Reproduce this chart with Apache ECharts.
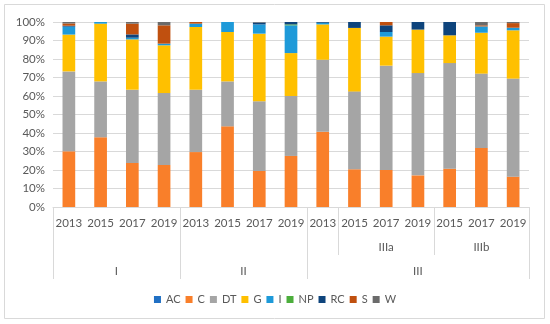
<!DOCTYPE html>
<html>
<head>
<meta charset="utf-8">
<script src="https://cdn.jsdelivr.net/npm/echarts@6/dist/echarts.min.js"></script>
<style>
html,body{margin:0;padding:0;background:#fff;}
#chart{width:550px;height:324px;}
</style>
</head>
<body>
<div id="chart"></div>
<script>
// Categories (year per bar), subgroup and group rows
var years = ['2013','2015','2017','2019','2013','2015','2017','2019','2013','2015','2017','2019','2015','2017','2019'];
var subgroupLabels = ['IIIa', 'IIIb'];
var groupLabels = ['I', 'II', 'III'];
var seriesNames = ['AC','C','DT','G','I','NP','RC','S','W'];

// Series values (% share per bar)
var AC = [0,0,0,0,0,0,0,0,0,0,0,0,0,0,0];
var C  = [30.1,37.7,23.8,22.7,29.7,43.6,19.5,27.6,40.7,20.4,20.0,17.1,20.7,31.9,16.4];
var DT = [43.2,30.2,39.6,38.9,33.7,24.3,37.6,32.4,38.9,42.1,56.4,55.3,57.1,40.2,53.0];
var G  = [19.9,31.2,27.2,25.8,33.9,26.7,36.6,23.2,19.1,34.3,15.7,23.5,15.0,22.1,26.1];
var I  = [4.3,0.9,0.9,0.9,1.8,5.4,5.0,15.0,0.9,0,2.5,0,0,3.4,1.4];
var NP = [0,0,0,0,0,0,0,0.5,0,0,0,0,0,0,0];
var RC = [0.5,0,1.8,0,0,0,1.0,1.3,0.4,3.2,3.6,4.1,7.2,0,0];
var S  = [1.2,0,5.8,9.9,0.9,0,0,0,0,0,1.8,0,0,0.6,2.5];
var W  = [0.8,0,0.9,1.8,0,0,0.3,0,0,0,0,0,0,1.8,0.6];

// Y axis ticks
var yTicks = [0,10,20,30,40,50,60,70,80,90,100];

var seriesData = [AC, C, DT, G, I, NP, RC, S, W];
var colors = ['#2170c4','#f97f2a','#a5a5a5','#ffc000','#1e9ad9','#4cae3c','#0e447c','#c0500f','#6b6b6b'];

// Build half-step slot axes (31 slots: 0, 0.5, ..., 15) for multi-level labels
function slots(labelMap) {
  var arr = [];
  for (var k = 0; k <= 30; k++) arr.push(labelMap[k] || '');
  return arr;
}
var groupSlots = slots({4: groupLabels[0], 12: groupLabels[1], 23: groupLabels[2]});
var subSlots = slots({21: subgroupLabels[0], 27: subgroupLabels[1]});
var groupTickIdx = [0, 8, 16, 30];
var subTickIdx = [18, 24];

var FONT = 'Lato';
var txt = {color:'#595959', fontSize:11.5, fontFamily:FONT};

var chart = echarts.init(document.getElementById('chart'));
chart.setOption({
  animation:false,
  color: colors,
  textStyle:{fontFamily:FONT},
  graphic:[{type:'rect', shape:{x:4.5,y:4.5,width:540,height:314}, style:{fill:'none', stroke:'#d9d9d9', lineWidth:1}, silent:true}],
  grid:{left:53, right:21, top:22, bottom:117, containLabel:false, outerBoundsMode:'none'},
  legend:{
    data: seriesNames, top:289, left:'center', icon:'rect', itemWidth:7, itemHeight:7, itemGap:5,
    textStyle:{color:'#595959', fontSize:11, fontFamily:FONT}
  },
  yAxis:{
    type:'value', min:yTicks[0], max:yTicks[yTicks.length-1], interval:10,
    axisLine:{show:false}, axisTick:{show:false},
    axisLabel:Object.assign({formatter:'{value}%', margin:8}, txt),
    splitLine:{lineStyle:{color:'#d9d9d9', width:1}}
  },
  xAxis:[
    {
      type:'category', data:years, position:'bottom', boundaryGap:true,
      axisLine:{show:true, lineStyle:{color:'#d9d9d9'}},
      axisTick:{show:false},
      axisLabel:Object.assign({interval:0, margin:10}, txt)
    },
    {
      type:'category', data:subSlots, position:'bottom', boundaryGap:false,
      axisLine:{show:false},
      axisTick:{show:true, length:48, interval:function(idx){return subTickIdx.indexOf(idx) >= 0;}, lineStyle:{color:'#d9d9d9'}},
      axisLabel:Object.assign({interval:0, margin:34}, txt),
      splitLine:{show:false}
    },
    {
      type:'category', data:groupSlots, position:'bottom', boundaryGap:false,
      axisLine:{show:false},
      axisTick:{show:true, length:72, interval:function(idx){return groupTickIdx.indexOf(idx) >= 0;}, lineStyle:{color:'#d9d9d9'}},
      axisLabel:Object.assign({interval:0, margin:58}, txt),
      splitLine:{show:false}
    }
  ],
  series: seriesNames.map(function(n, i){
    return {name:n, type:'bar', stack:'total', xAxisIndex:0, data:seriesData[i], barCategoryGap:'60%'};
  })
});
</script>
</body>
</html>
